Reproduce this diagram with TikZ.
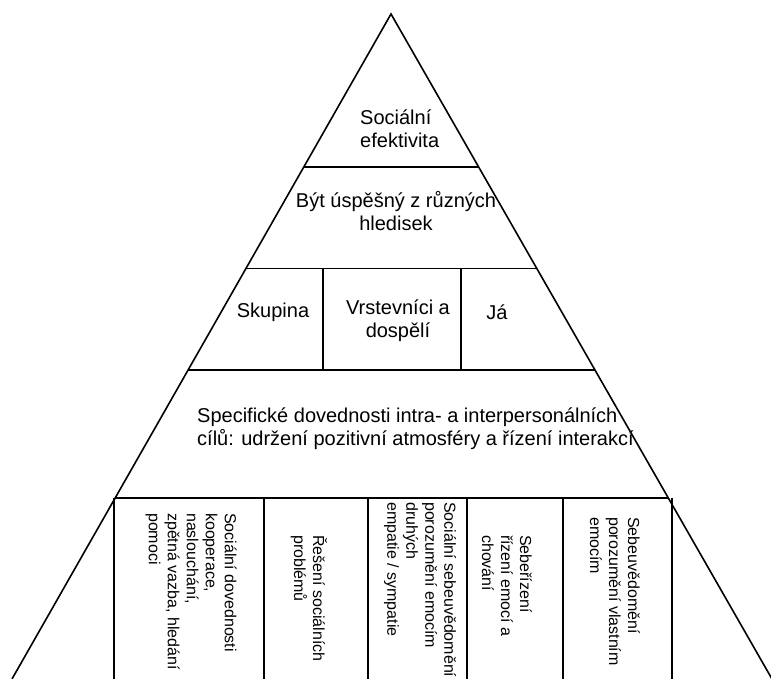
\documentclass[tikz,border=0pt]{standalone}
\usepackage{fontspec}
\setmainfont{Liberation Sans}
\usetikzlibrary{calc}
\begin{document}
\begin{tikzpicture}[x=1pt,y=1pt]
    \tikzstyle{tierline}=[line width=1.6pt,black]
    \tikzstyle{tier}=[inner sep=0pt,font=\fontsize{20}{23}\selectfont]
    \tikzstyle{skill}=[inner sep=0pt,rotate=-90,anchor=west,align=left,font=\fontsize{16}{19}\selectfont]

    \useasboundingbox (0,0) rectangle (771,679);
    \clip (0,0) rectangle (771,679);

    \coordinate (apex) at (391,665);
    \coordinate (bl) at (12,0);
    \coordinate (br) at (772,0);

    \draw[tierline] (bl) -- (apex) -- (br);

    % horizontal levels
    \foreach \t/\n in {0.230/a,0.383/b,0.535/c,0.728/d} {
        \coordinate (l\n) at ($(apex)!\t!(bl)$);
        \coordinate (r\n) at ($(apex)!\t!(br)$);
        \draw[tierline] (l\n) -- (r\n);
    }

    \draw[tierline] (323,309) -- (323,410);
    \draw[tierline] (461,309) -- (461,410);
    \foreach \x in {114,264,368,467,563,672}
        \draw[tierline] (\x,181) -- (\x,0);

    \node[tier,anchor=west,align=left] at (360,550) (eff) {Sociální\\efektivita};
    \node[tier,align=center] at (396,468) (uspech) {Být úspěšný z různých\\hledisek};
    \node[tier] at (273,367) (skupina) {Skupina};
    \node[tier,align=center] at (398,358) (vrst) {Vrstevníci a\\dospělí};
    \node[tier] at (497,367) (ja) {Já};
    \node[tier,anchor=west,align=left] at (197,250) (spec)
        {Specifické dovednosti intra- a interpersonálních\\cílů: udržení pozitivní atmosféry a řízení interakcí};

    \node[skill] at (191,166) (coop) {Sociální dovednosti\\kooperace,\\naslouchání,\\zpětná vazba, hledání\\pomoci};
    \node[skill] at (309,144) (reseni) {Řešení sociálních\\problémů};
    \node[skill] at (420,177) (empatie) {Sociální sebeuvědomění\\porozumění emocím\\druhých\\empatie / sympatie};
    \node[skill] at (507,144) (rizeni) {Sebeřízení\\řízení emocí a\\chování};
    \node[skill] at (615,162) (vedomi) {Sebeuvědomění\\porozumění vlastním\\emocím};
\end{tikzpicture}
\end{document}
